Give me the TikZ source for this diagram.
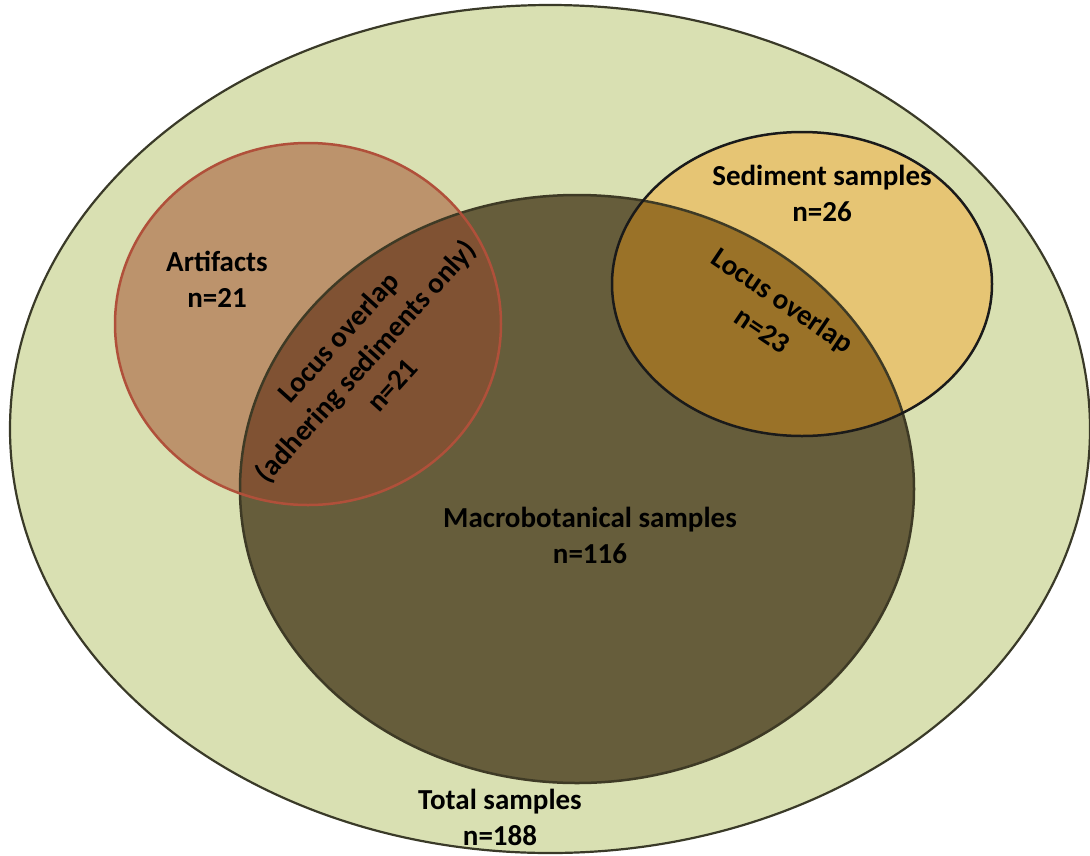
\documentclass[tikz,border=0pt]{standalone}
\usepackage{fontspec}
\setmainfont{Carlito}
\definecolor{outerfill}{RGB}{217,224,178}
\definecolor{outerline}{RGB}{58,58,40}
\definecolor{macrofill}{RGB}{102,93,59}
\definecolor{macroline}{RGB}{62,58,37}
\definecolor{artfill}{RGB}{188,147,108}
\definecolor{artline}{RGB}{176,80,58}
\definecolor{artover}{RGB}{128,82,51}
\definecolor{sedfill}{RGB}{230,197,116}
\definecolor{sedover}{RGB}{154,114,40}
\definecolor{sedline}{RGB}{26,26,26}
\begin{document}
\begin{tikzpicture}[x=1pt,y=-1pt,
  lbl/.style={font=\fontsize{29}{36}\selectfont\bfseries, align=center, inner sep=0pt, text=black}]
\useasboundingbox (0,0) rectangle (1090,855);
\fill[white] (0,0) rectangle (1090,855);
% fills
\fill[outerfill] (550,429) ellipse (540 and 424);
\fill[macrofill] (577,489) ellipse (337 and 294);
\fill[artfill] (308,324) ellipse (193 and 181);
\fill[sedfill] (802,284) ellipse (190 and 152);
\begin{scope}
  \clip (577,489) ellipse (337 and 294);
  \fill[artover] (308,324) ellipse (193 and 181);
  \fill[sedover] (802,284) ellipse (190 and 152);
\end{scope}
% borders
\draw[outerline, line width=2.2pt] (550,429) ellipse (540 and 424);
\draw[macroline, line width=2.5pt] (577,489) ellipse (337 and 294);
\draw[artline, line width=2.5pt] (308,324) ellipse (193 and 181);
\draw[sedline, line width=2.5pt] (802,284) ellipse (190 and 152);
% labels
\node[lbl] (sed) at (822,193) {Sediment samples\\n=26};
\node[lbl] (art) at (217,279) {Artifacts\\n=21};
\node[lbl, rotate=48] (artover) at (365,361) {Locus overlap\\(adhering sediments only)\\n=21};
\node[lbl, rotate=-34] (sedover) at (773,315) {Locus overlap\\n=23};
\node[lbl] (macro) at (590,535) {Macrobotanical samples\\n=116};
\node[lbl] (total) at (500,817) {Total samples\\n=188};
\end{tikzpicture}
\end{document}
